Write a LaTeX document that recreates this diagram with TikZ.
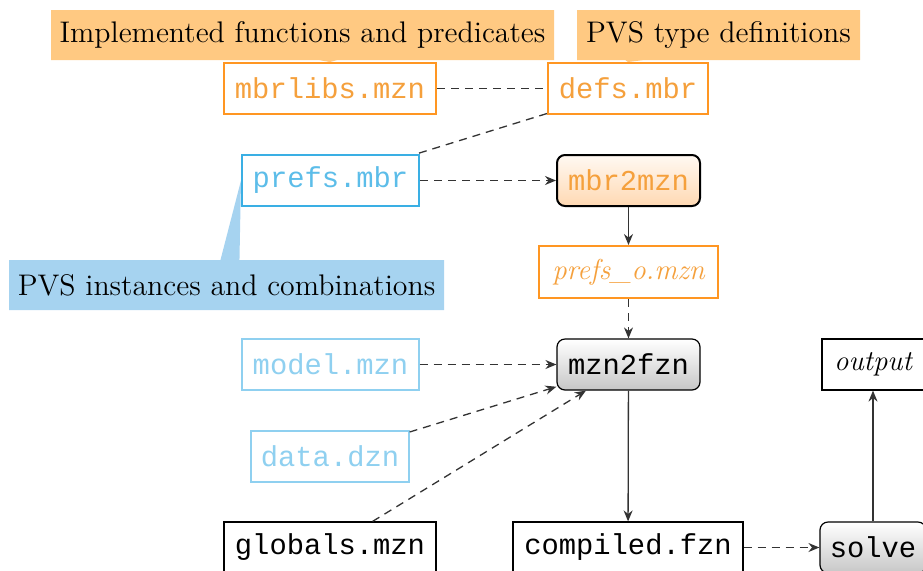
\documentclass[tikz,border=0pt]{standalone}
\usepackage{fontspec}
\setmonofont{Liberation Mono}
\usetikzlibrary{shapes.callouts,arrows.meta,backgrounds}
\definecolor{orfill}{HTML}{FFC982}
\definecolor{ordraw}{HTML}{FF9622}
\definecolor{ortext}{HTML}{F5A03C}
\definecolor{bldraw}{HTML}{3AAFE4}
\definecolor{bltext}{HTML}{5CBDE9}
\definecolor{lbdraw}{HTML}{8FD0F0}
\definecolor{blfill}{HTML}{A6D3F0}
\definecolor{linecol}{HTML}{333333}
\begin{document}
\begin{tikzpicture}[x=0.5pt,y=-0.5pt,font=\Large,
  box/.style={draw,rectangle,minimum height=25.5pt,inner sep=0pt,fill=white,line width=0.5pt},
  orbox/.style={box,draw=ordraw,text=ortext,line width=1pt,font=\Large\ttfamily},
  blbox/.style={box,draw=bldraw,text=bltext,line width=1pt,font=\Large\ttfamily},
  lbbox/.style={box,draw=lbdraw,text=lbdraw,line width=0.6pt,font=\Large\ttfamily},
  blkbox/.style={box,draw=black,text=black,line width=0.6pt,font=\Large\ttfamily},
  tool/.style={draw,rounded corners=4pt,minimum height=25.5pt,inner sep=0pt,font=\Large\ttfamily},
  lab/.style={rectangle callout,minimum height=25pt,inner sep=0pt,callout pointer width=9.5pt,text=black,font=\fontsize{14.9}{18}\selectfont},
  conn/.style={draw=linecol,line width=0.65pt},
  dconn/.style={conn,dash pattern=on 4pt off 3pt},
  arr/.style={-{Stealth[length=5.5pt,width=4.5pt]}}
]
\useasboundingbox (0,0) rectangle (923,570);

\node[orbox,minimum width=106pt] (mbrlibs) at (330,88.5) {mbrlibs.mzn};
\node[orbox,minimum width=80pt] (defs) at (628,88.5) {defs.mbr};
\node[blbox,minimum width=88.5pt] (prefs) at (330.5,180.5) {prefs.mbr};
\node[tool,line width=1pt,top color=orange!5,bottom color=orange!30,text=ortext,minimum width=71.5pt] (mbr2mzn) at (628.5,180.5) {mbr2mzn};
\node[orbox,minimum width=89.5pt,minimum height=26pt,font=\Large\itshape] (prefso) at (628.5,272) {prefs\_o.mzn};
\node[tool,line width=0.6pt,top color=white,bottom color=black!22,minimum width=71.5pt] (mzn2fzn) at (628.5,364.5) {mzn2fzn};
\node[lbbox,minimum width=88.5pt] (model) at (330.5,364.5) {model.mzn};
\node[lbbox,minimum width=79pt] (data) at (330,456.5) {data.dzn};
\node[blkbox,minimum width=106pt] (globals) at (330,547.5) {globals.mzn};
\node[blkbox,minimum width=115pt] (compiled) at (628,547.5) {compiled.fzn};
\node[tool,line width=0.6pt,top color=white,bottom color=black!22,minimum width=53pt] (solve) at (873,547.5) {solve};
\node[box,line width=0.6pt,minimum width=51pt,font=\Large\itshape] (output) at (873,364.5) {output};

\begin{scope}[on background layer]
\node[lab,fill=orfill,minimum width=251.5pt,callout absolute pointer={(mbrlibs.north)}] (implab) at (302.5,35) {Implemented functions and predicates};
\node[lab,fill=orfill,minimum width=141.5pt,callout absolute pointer={(defs.north)}] (pvsdef) at (718.5,35) {PVS type definitions};
\node[lab,fill=blfill,minimum width=217.5pt,callout absolute pointer={(prefs.west)}] (pvsinst) at (226.5,285) {PVS instances and combinations};
\end{scope}

\draw[dconn] (mbrlibs) -- (defs);
\draw[dconn] (defs) -- (prefs);
\draw[dconn,arr] (prefs) -- (mbr2mzn);
\draw[conn,arr] (mbr2mzn) -- (prefso);
\draw[dconn,arr] (prefso) -- (mzn2fzn);
\draw[dconn,arr] (model) -- (mzn2fzn);
\draw[dconn,arr] (data) -- (mzn2fzn);
\draw[dconn,arr] (globals) -- (mzn2fzn);
\draw[conn,arr] (mzn2fzn) -- (compiled);
\draw[dconn,arr] (compiled) -- (solve);
\draw[conn,arr] (solve) -- (output);
\end{tikzpicture}
\end{document}
